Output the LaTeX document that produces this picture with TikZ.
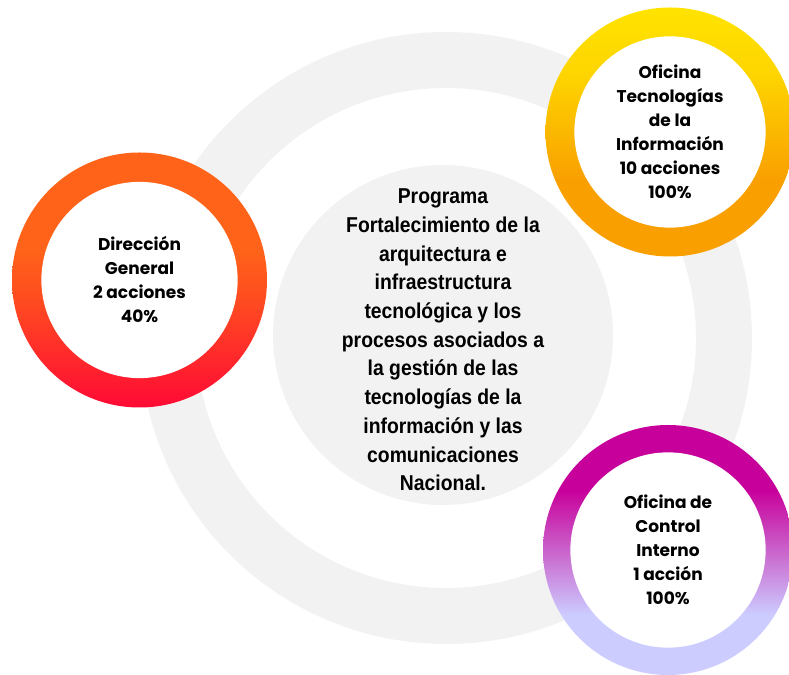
\documentclass[tikz,border=0pt]{standalone}
\usepackage{fontspec}
\setmainfont{Poppins}
\newfontfamily\narrowfont[FakeStretch=0.9]{Liberation Sans Bold}

\definecolor{gris}{HTML}{F2F2F2}
\definecolor{dgnaranja}{HTML}{FF6319}
\definecolor{dgrojo}{HTML}{FF0A35}
\definecolor{tiamarillo}{HTML}{FFE300}
\definecolor{tinaranja}{HTML}{F99F00}
\definecolor{cimagenta}{HTML}{C8009B}
\definecolor{cilila}{HTML}{CCCCFF}

% vertical gradients of the three rings (bottom to top)
\pgfdeclareverticalshading{dgshade}{100bp}{color(0bp)=(dgrojo); color(25bp)=(dgrojo);
  color(45bp)=(dgnaranja!70!dgrojo); color(56bp)=(dgnaranja); color(100bp)=(dgnaranja)}
\pgfdeclareverticalshading{tishade}{100bp}{color(0bp)=(tinaranja); color(25bp)=(tinaranja);
  color(40bp)=(tinaranja); color(62bp)=(tiamarillo!80!tinaranja); color(75bp)=(tiamarillo); color(100bp)=(tiamarillo)}
\pgfdeclareverticalshading{cishade}{100bp}{color(0bp)=(cilila); color(25bp)=(cilila);
  color(37bp)=(cilila); color(62bp)=(cimagenta); color(100bp)=(cimagenta)}

\tikzset{
  hueco/.style={circle, fill=white, inner sep=0pt, minimum size=#1, align=center,
    font=\fontsize{17bp}{24bp}\selectfont\bfseries},
  centro/.style={inner sep=0pt, align=center,
    font=\narrowfont\fontsize{21.5bp}{28.7bp}\selectfont}
}

\begin{document}
\begin{tikzpicture}[x=1bp, y=1bp]
  \useasboundingbox (0,0) rectangle (789,675);

  % big gray ring and inner disc
  \fill[gris, even odd rule] (446,337) circle (306) circle (250);
  \fill[gris] (443,340) circle (170);
  \node[centro] (prog) at (443,335) {Programa\\ Fortalecimiento de la\\ arquitectura e\\
    infraestructura\\ tecnológica y los\\ procesos asociados a\\ la gestión de las\\
    tecnologías de la\\ información y las\\ comunicaciones\\ Nacional.};

  % Direccion General
  \shade[shading=dgshade] (139.5,395) circle (127.5);
  \node[hueco=197] (dirgen) at (139.5,395) {Dirección\\ General\\ 2 acciones\\ 40\%};

  % Oficina TI
  \shade[shading=tishade] (670,543) circle (124.5);
  \node[hueco=192] (ofiti) at (670,543) {Oficina\\ Tecnologías\\ de la\\ Información\\ 10 acciones\\ 100\%};

  % Control Interno
  \shade[shading=cishade] (668,125) circle (125);
  \node[hueco=196] (ofici) at (668,125) {Oficina de\\ Control\\ Interno\\ 1 acción\\ 100\%};
\end{tikzpicture}
\end{document}
